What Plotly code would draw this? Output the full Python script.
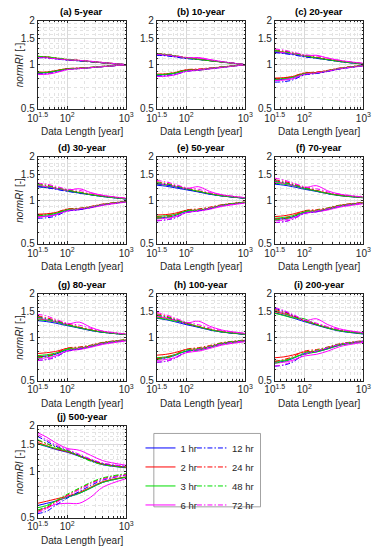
import plotly.graph_objects as go

# ---------------- data ----------------
X = [31.62, 45, 63, 100, 160, 250, 400, 1000]
DURATIONS = ["1 hr", "2 hr", "3 hr", "6 hr", "12 hr", "24 hr", "48 hr", "72 hr"]
TITLES = ["(a) 5-year", "(b) 10-year", "(c) 20-year", "(d) 30-year", "(e) 50-year",
          "(f) 70-year", "(g) 80-year", "(h) 100-year", "(i) 200-year", "(j) 500-year"]
X_TICKVALS = [31.62, 100, 1000]
X_TICKTEXT = ["10<sup>1.5</sup>", "10<sup>2</sup>", "10<sup>3</sup>"]
Y_TICKVALS = [0.5, 1, 1.5, 2]
Y_TICKTEXT = ["0.5", "1", "1.5", "2"]

UP_A = [[1.13,1.12,1.10,1.08,1.065,1.05,1.03,1.0],
        [1.14,1.13,1.11,1.085,1.07,1.05,1.035,1.0],
        [1.14,1.13,1.11,1.08,1.065,1.05,1.03,1.0],
        [1.13,1.12,1.10,1.08,1.07,1.055,1.035,1.0],
        [1.12,1.11,1.095,1.075,1.06,1.045,1.03,1.0],
        [1.14,1.13,1.11,1.085,1.07,1.05,1.03,1.0],
        [1.14,1.13,1.115,1.09,1.07,1.05,1.035,1.0],
        [1.12,1.11,1.10,1.08,1.07,1.055,1.035,1.0]]
LO_A = [[0.88,0.88,0.90,0.935,0.945,0.955,0.97,1.0],
        [0.89,0.89,0.91,0.94,0.945,0.955,0.97,1.0],
        [0.885,0.885,0.905,0.935,0.94,0.955,0.97,1.0],
        [0.86,0.86,0.88,0.925,0.94,0.955,0.97,1.0],
        [0.87,0.87,0.89,0.93,0.94,0.955,0.97,1.0],
        [0.885,0.89,0.91,0.94,0.95,0.96,0.975,1.0],
        [0.88,0.885,0.905,0.935,0.945,0.96,0.975,1.0],
        [0.86,0.865,0.885,0.925,0.94,0.955,0.97,1.0]]

UP_B = [[1.17,1.16,1.14,1.11,1.09,1.07,1.045,1.0],
        [1.19,1.17,1.15,1.115,1.09,1.065,1.045,1.0],
        [1.19,1.17,1.15,1.11,1.085,1.065,1.04,1.0],
        [1.17,1.16,1.14,1.11,1.12,1.085,1.05,1.0],
        [1.16,1.15,1.13,1.10,1.085,1.065,1.045,1.0],
        [1.19,1.18,1.155,1.12,1.095,1.07,1.045,1.0],
        [1.19,1.175,1.155,1.115,1.09,1.065,1.045,1.0],
        [1.18,1.17,1.15,1.12,1.11,1.08,1.05,1.0]]
LO_B = [[0.85,0.855,0.87,0.915,0.92,0.94,0.96,1.0],
        [0.86,0.865,0.88,0.92,0.925,0.945,0.965,1.0],
        [0.855,0.86,0.875,0.91,0.915,0.94,0.96,1.0],
        [0.83,0.835,0.85,0.90,0.915,0.935,0.955,1.0],
        [0.84,0.84,0.855,0.90,0.92,0.94,0.96,1.0],
        [0.86,0.865,0.885,0.925,0.935,0.95,0.965,1.0],
        [0.855,0.86,0.88,0.915,0.925,0.945,0.965,1.0],
        [0.83,0.835,0.855,0.90,0.925,0.945,0.96,1.0]]

UP_C = [[1.22,1.20,1.18,1.14,1.11,1.08,1.05,1.01],
        [1.24,1.22,1.19,1.15,1.115,1.085,1.055,1.015],
        [1.23,1.21,1.19,1.145,1.11,1.08,1.05,1.01],
        [1.22,1.21,1.19,1.15,1.16,1.11,1.07,1.02],
        [1.21,1.19,1.17,1.13,1.105,1.08,1.05,1.01],
        [1.26,1.24,1.21,1.16,1.125,1.09,1.06,1.015],
        [1.25,1.23,1.20,1.155,1.12,1.085,1.055,1.015],
        [1.28,1.26,1.22,1.17,1.15,1.11,1.07,1.02]]
LO_C = [[0.79,0.795,0.815,0.865,0.875,0.905,0.94,0.985],
        [0.81,0.815,0.83,0.875,0.885,0.91,0.945,0.99],
        [0.80,0.805,0.82,0.865,0.875,0.905,0.94,0.985],
        [0.78,0.785,0.80,0.855,0.875,0.90,0.935,0.98],
        [0.76,0.765,0.785,0.85,0.87,0.90,0.935,0.985],
        [0.80,0.81,0.83,0.88,0.89,0.915,0.95,0.99],
        [0.79,0.80,0.82,0.87,0.88,0.91,0.945,0.99],
        [0.78,0.79,0.81,0.86,0.88,0.905,0.94,0.985]]

UP_D = [[1.24,1.22,1.20,1.16,1.12,1.09,1.06,1.02],
        [1.26,1.24,1.21,1.165,1.13,1.095,1.065,1.025],
        [1.25,1.23,1.21,1.16,1.125,1.09,1.06,1.02],
        [1.26,1.24,1.21,1.17,1.20,1.13,1.08,1.03],
        [1.24,1.22,1.19,1.15,1.12,1.09,1.06,1.02],
        [1.30,1.27,1.23,1.18,1.14,1.10,1.07,1.025],
        [1.28,1.26,1.22,1.175,1.135,1.095,1.065,1.02],
        [1.31,1.29,1.25,1.19,1.17,1.12,1.08,1.03]]
LO_D = [[0.77,0.775,0.795,0.85,0.86,0.89,0.93,0.975],
        [0.80,0.805,0.82,0.865,0.87,0.90,0.935,0.98],
        [0.785,0.79,0.81,0.855,0.865,0.895,0.93,0.975],
        [0.77,0.775,0.79,0.84,0.86,0.885,0.92,0.97],
        [0.75,0.755,0.775,0.84,0.86,0.89,0.93,0.975],
        [0.79,0.80,0.82,0.87,0.88,0.905,0.94,0.98],
        [0.78,0.79,0.81,0.86,0.875,0.90,0.935,0.98],
        [0.76,0.77,0.79,0.845,0.87,0.895,0.93,0.975]]

UP_E = [[1.27,1.25,1.22,1.18,1.14,1.10,1.07,1.03],
        [1.30,1.28,1.25,1.20,1.15,1.11,1.075,1.035],
        [1.29,1.27,1.24,1.19,1.15,1.105,1.07,1.03],
        [1.30,1.28,1.25,1.20,1.24,1.15,1.09,1.04],
        [1.30,1.28,1.24,1.19,1.145,1.10,1.07,1.03],
        [1.34,1.31,1.27,1.21,1.16,1.115,1.08,1.035],
        [1.32,1.30,1.26,1.205,1.155,1.11,1.075,1.035],
        [1.37,1.34,1.29,1.22,1.19,1.13,1.09,1.04]]
LO_E = [[0.75,0.76,0.78,0.835,0.845,0.875,0.92,0.965],
        [0.79,0.795,0.81,0.85,0.855,0.88,0.925,0.97],
        [0.77,0.78,0.795,0.84,0.85,0.875,0.92,0.965],
        [0.74,0.75,0.765,0.82,0.84,0.865,0.905,0.955],
        [0.72,0.73,0.75,0.82,0.845,0.875,0.92,0.965],
        [0.76,0.77,0.79,0.855,0.87,0.895,0.93,0.97],
        [0.75,0.76,0.78,0.845,0.86,0.885,0.925,0.97],
        [0.72,0.73,0.755,0.82,0.85,0.88,0.915,0.96]]

UP_F = [[1.29,1.27,1.24,1.19,1.15,1.11,1.075,1.04],
        [1.33,1.31,1.27,1.21,1.16,1.115,1.08,1.045],
        [1.31,1.29,1.26,1.20,1.155,1.11,1.075,1.04],
        [1.33,1.31,1.27,1.22,1.26,1.16,1.10,1.05],
        [1.36,1.33,1.28,1.21,1.155,1.11,1.08,1.04],
        [1.38,1.35,1.30,1.23,1.17,1.12,1.085,1.045],
        [1.35,1.32,1.28,1.215,1.16,1.115,1.08,1.045],
        [1.42,1.38,1.32,1.24,1.20,1.14,1.10,1.05]]
LO_F = [[0.74,0.745,0.765,0.82,0.83,0.865,0.91,0.955],
        [0.77,0.78,0.80,0.84,0.845,0.875,0.92,0.96],
        [0.75,0.76,0.78,0.825,0.835,0.865,0.91,0.955],
        [0.72,0.73,0.75,0.81,0.83,0.855,0.895,0.945],
        [0.70,0.71,0.735,0.81,0.835,0.87,0.91,0.96],
        [0.74,0.75,0.775,0.845,0.86,0.885,0.925,0.965],
        [0.73,0.74,0.765,0.835,0.85,0.88,0.92,0.96],
        [0.70,0.71,0.735,0.81,0.84,0.87,0.91,0.955]]

UP_G = [[1.30,1.28,1.25,1.20,1.155,1.11,1.08,1.04],
        [1.34,1.31,1.28,1.22,1.165,1.12,1.085,1.045],
        [1.32,1.30,1.27,1.21,1.16,1.115,1.08,1.04],
        [1.35,1.32,1.28,1.23,1.27,1.17,1.10,1.05],
        [1.38,1.34,1.29,1.22,1.16,1.115,1.08,1.04],
        [1.40,1.36,1.31,1.235,1.175,1.125,1.09,1.045],
        [1.37,1.33,1.29,1.22,1.165,1.12,1.085,1.045],
        [1.44,1.40,1.33,1.25,1.21,1.15,1.10,1.05]]
LO_G = [[0.73,0.74,0.76,0.815,0.825,0.86,0.905,0.95],
        [0.77,0.78,0.795,0.835,0.84,0.87,0.915,0.955],
        [0.745,0.755,0.775,0.82,0.83,0.86,0.905,0.95],
        [0.71,0.72,0.74,0.80,0.82,0.85,0.89,0.94],
        [0.69,0.70,0.725,0.80,0.83,0.865,0.905,0.955],
        [0.73,0.74,0.77,0.84,0.855,0.88,0.92,0.96],
        [0.72,0.73,0.76,0.83,0.845,0.875,0.915,0.96],
        [0.69,0.70,0.73,0.805,0.835,0.865,0.905,0.95]]

UP_H = [[1.35,1.32,1.28,1.22,1.17,1.12,1.085,1.045],
        [1.38,1.35,1.31,1.24,1.18,1.13,1.09,1.05],
        [1.36,1.33,1.29,1.26,1.18,1.125,1.085,1.045],
        [1.40,1.36,1.32,1.25,1.29,1.19,1.12,1.06],
        [1.42,1.38,1.32,1.235,1.175,1.125,1.085,1.045],
        [1.45,1.40,1.34,1.25,1.19,1.135,1.095,1.05],
        [1.42,1.38,1.33,1.24,1.18,1.13,1.09,1.05],
        [1.48,1.43,1.36,1.27,1.22,1.16,1.11,1.06]]
LO_H = [[0.71,0.72,0.745,0.80,0.815,0.85,0.895,0.94],
        [0.75,0.76,0.78,0.82,0.83,0.86,0.905,0.95],
        [0.72,0.73,0.755,0.80,0.815,0.85,0.895,0.94],
        [0.69,0.70,0.72,0.78,0.80,0.835,0.88,0.93],
        [0.67,0.68,0.71,0.79,0.82,0.855,0.90,0.95],
        [0.71,0.725,0.755,0.825,0.845,0.875,0.915,0.955],
        [0.70,0.715,0.745,0.815,0.835,0.865,0.91,0.955],
        [0.67,0.68,0.71,0.785,0.82,0.855,0.895,0.945]]

UP_I = [[1.47,1.42,1.36,1.28,1.21,1.15,1.10,1.05],
        [1.50,1.45,1.39,1.30,1.22,1.16,1.11,1.06],
        [1.46,1.41,1.36,1.34,1.22,1.155,1.105,1.055],
        [1.52,1.47,1.40,1.30,1.34,1.22,1.14,1.07],
        [1.58,1.51,1.42,1.30,1.22,1.16,1.11,1.06],
        [1.55,1.49,1.41,1.30,1.23,1.165,1.115,1.065],
        [1.52,1.46,1.39,1.29,1.22,1.16,1.11,1.06],
        [1.60,1.53,1.44,1.32,1.25,1.18,1.13,1.07]]
LO_I = [[0.67,0.68,0.71,0.77,0.79,0.83,0.88,0.93],
        [0.72,0.73,0.75,0.79,0.80,0.84,0.89,0.935],
        [0.68,0.69,0.72,0.76,0.79,0.83,0.88,0.93],
        [0.66,0.67,0.69,0.74,0.76,0.80,0.86,0.92],
        [0.63,0.64,0.67,0.76,0.80,0.84,0.89,0.94],
        [0.68,0.70,0.73,0.80,0.82,0.855,0.90,0.945],
        [0.66,0.68,0.71,0.78,0.81,0.85,0.895,0.94],
        [0.63,0.645,0.68,0.76,0.80,0.845,0.89,0.935]]

UP_J = [[1.52,1.46,1.40,1.34,1.26,1.18,1.11,1.06],
        [1.55,1.48,1.41,1.35,1.27,1.19,1.12,1.07],
        [1.52,1.47,1.42,1.36,1.27,1.19,1.12,1.07],
        [1.80,1.68,1.55,1.42,1.38,1.28,1.18,1.10],
        [1.70,1.58,1.47,1.38,1.28,1.20,1.13,1.08],
        [1.60,1.52,1.45,1.37,1.27,1.19,1.12,1.07],
        [1.62,1.53,1.45,1.37,1.26,1.17,1.11,1.06],
        [1.75,1.62,1.50,1.40,1.30,1.21,1.14,1.08]]
LO_J = [[0.60,0.62,0.64,0.68,0.72,0.78,0.85,0.92],
        [0.62,0.64,0.66,0.69,0.73,0.79,0.86,0.925],
        [0.58,0.60,0.64,0.68,0.72,0.78,0.85,0.92],
        [0.56,0.58,0.61,0.62,0.62,0.68,0.79,0.90],
        [0.53,0.55,0.60,0.67,0.74,0.81,0.88,0.95],
        [0.55,0.58,0.63,0.70,0.77,0.84,0.90,0.96],
        [0.56,0.59,0.64,0.71,0.78,0.85,0.91,0.97],
        [0.54,0.57,0.62,0.69,0.76,0.83,0.89,0.95]]

UPPER = [UP_A, UP_B, UP_C, UP_D, UP_E, UP_F, UP_G, UP_H, UP_I, UP_J]
LOWER = [LO_A, LO_B, LO_C, LO_D, LO_E, LO_F, LO_G, LO_H, LO_I, LO_J]

# ---------------- styles ----------------
COLORS = ["#0000ff", "#ff0000", "#00dd00", "#ff00ff"] * 2
DASHES = ["solid"] * 4 + ["5px,2px,1.5px,2px"] * 4
FONT = "Liberation Sans, Arial, sans-serif"
W, H = 379, 550
COL_LEFT = [29, 154, 278]
PANEL_W = 93
ROW_TOP = [15, 154, 294, 429]
ROW_BOT = [105, 243, 383, 523]

def px(x):
    return x / W

def py(y):
    return 1 - y / H

fig = go.Figure()
annotations = []

for k in range(10):
    r, c = divmod(k, 3)
    ax = "" if k == 0 else str(k + 1)
    x0, x1 = COL_LEFT[c], COL_LEFT[c] + PANEL_W
    y0, y1 = ROW_TOP[r], ROW_BOT[r]
    for d in range(8):
        for bound, data in (("up", UPPER[k][d]), ("lo", LOWER[k][d])):
            show = (k == 0 and bound == "up")
            fig.add_trace(go.Scatter(
                x=X, y=data, mode="lines",
                line=dict(color=COLORS[d], width=1, dash=DASHES[d], shape="spline", smoothing=0.9),
                name=DURATIONS[d], showlegend=show,
                legend="legend" if d < 4 else "legend2",
                xaxis="x" + ax, yaxis="y" + ax, hoverinfo="skip"))
    common = dict(showline=True, linecolor="#262626", linewidth=0.7, mirror="ticks",
                  ticks="inside", ticklen=2.5, tickcolor="#262626", tickwidth=0.6,
                  showgrid=True, gridcolor="#d9d9d9", gridwidth=0.6, zeroline=False,
                  tickfont=dict(family=FONT, size=10, color="#262626"))
    fig.layout["xaxis" + ax] = dict(
        type="log", range=[1.5, 3], domain=[px(x0), px(x1)], anchor="y" + ax,
        tickvals=X_TICKVALS, ticktext=X_TICKTEXT,
        minor=dict(tickvals=[40, 50, 60, 70, 80, 90, 200, 300, 400, 500, 600, 700, 800, 900],
                   showgrid=True, gridcolor="#e3e3e3", griddash="dot", gridwidth=0.6,
                   ticks="inside", ticklen=1.5, tickcolor="#262626"),
        **common)
    fig.layout["yaxis" + ax] = dict(
        type="log", range=[-0.30103, 0.30103], domain=[py(y1), py(y0)], anchor="x" + ax,
        tickvals=Y_TICKVALS, ticktext=Y_TICKTEXT,
        minor=dict(tickvals=[0.6, 0.7, 0.8, 0.9, 1.1, 1.2, 1.3, 1.4, 1.6, 1.7, 1.8, 1.9],
                   showgrid=True, gridcolor="#e3e3e3", griddash="dot", gridwidth=0.6,
                   ticks="inside", ticklen=1.5, tickcolor="#262626"),
        **common)
    annotations.append(dict(text="<b>" + TITLES[k] + "</b>", x=px((x0 + x1) / 2), y=py(y0 - 2),
                            xref="paper", yref="paper", xanchor="center", yanchor="bottom",
                            showarrow=False, font=dict(family=FONT, size=9.5, color="#000")))
    annotations.append(dict(text="Data Length [year]", x=px((x0 + x1) / 2), y=py(y1 + 16),
                            xref="paper", yref="paper", xanchor="center", yanchor="top",
                            showarrow=False, font=dict(family=FONT, size=10, color="#262626")))
    if c == 0:
        annotations.append(dict(text="<i>normRI</i> [-]", x=px(10), y=py((y0 + y1) / 2),
                                xref="paper", yref="paper", xanchor="center", yanchor="middle",
                                textangle=-90, showarrow=False,
                                font=dict(family=FONT, size=10, color="#262626")))

legend_common = dict(bgcolor="rgba(0,0,0,0)", borderwidth=0, xanchor="left", yanchor="top",
                     font=dict(family=FONT, size=9.5, color="#262626"), itemwidth=30,
                     tracegroupgap=0)
fig.update_layout(
    width=W, height=H, margin=dict(l=0, r=0, t=0, b=0),
    paper_bgcolor="white", plot_bgcolor="white",
    annotations=annotations,
    legend=dict(x=px(137), y=py(437), **legend_common),
    legend2=dict(x=px(191), y=py(437), **legend_common),
    shapes=[dict(type="rect", xref="paper", yref="paper", x0=px(151), x1=px(263),
                 y0=py(512), y1=py(437), line=dict(color="#8c8c8c", width=0.8))],
)

fig.write_html("out.html", config={"displayModeBar": False},
               post_script="document.body.style.margin='0px';document.body.style.overflow='hidden';")
